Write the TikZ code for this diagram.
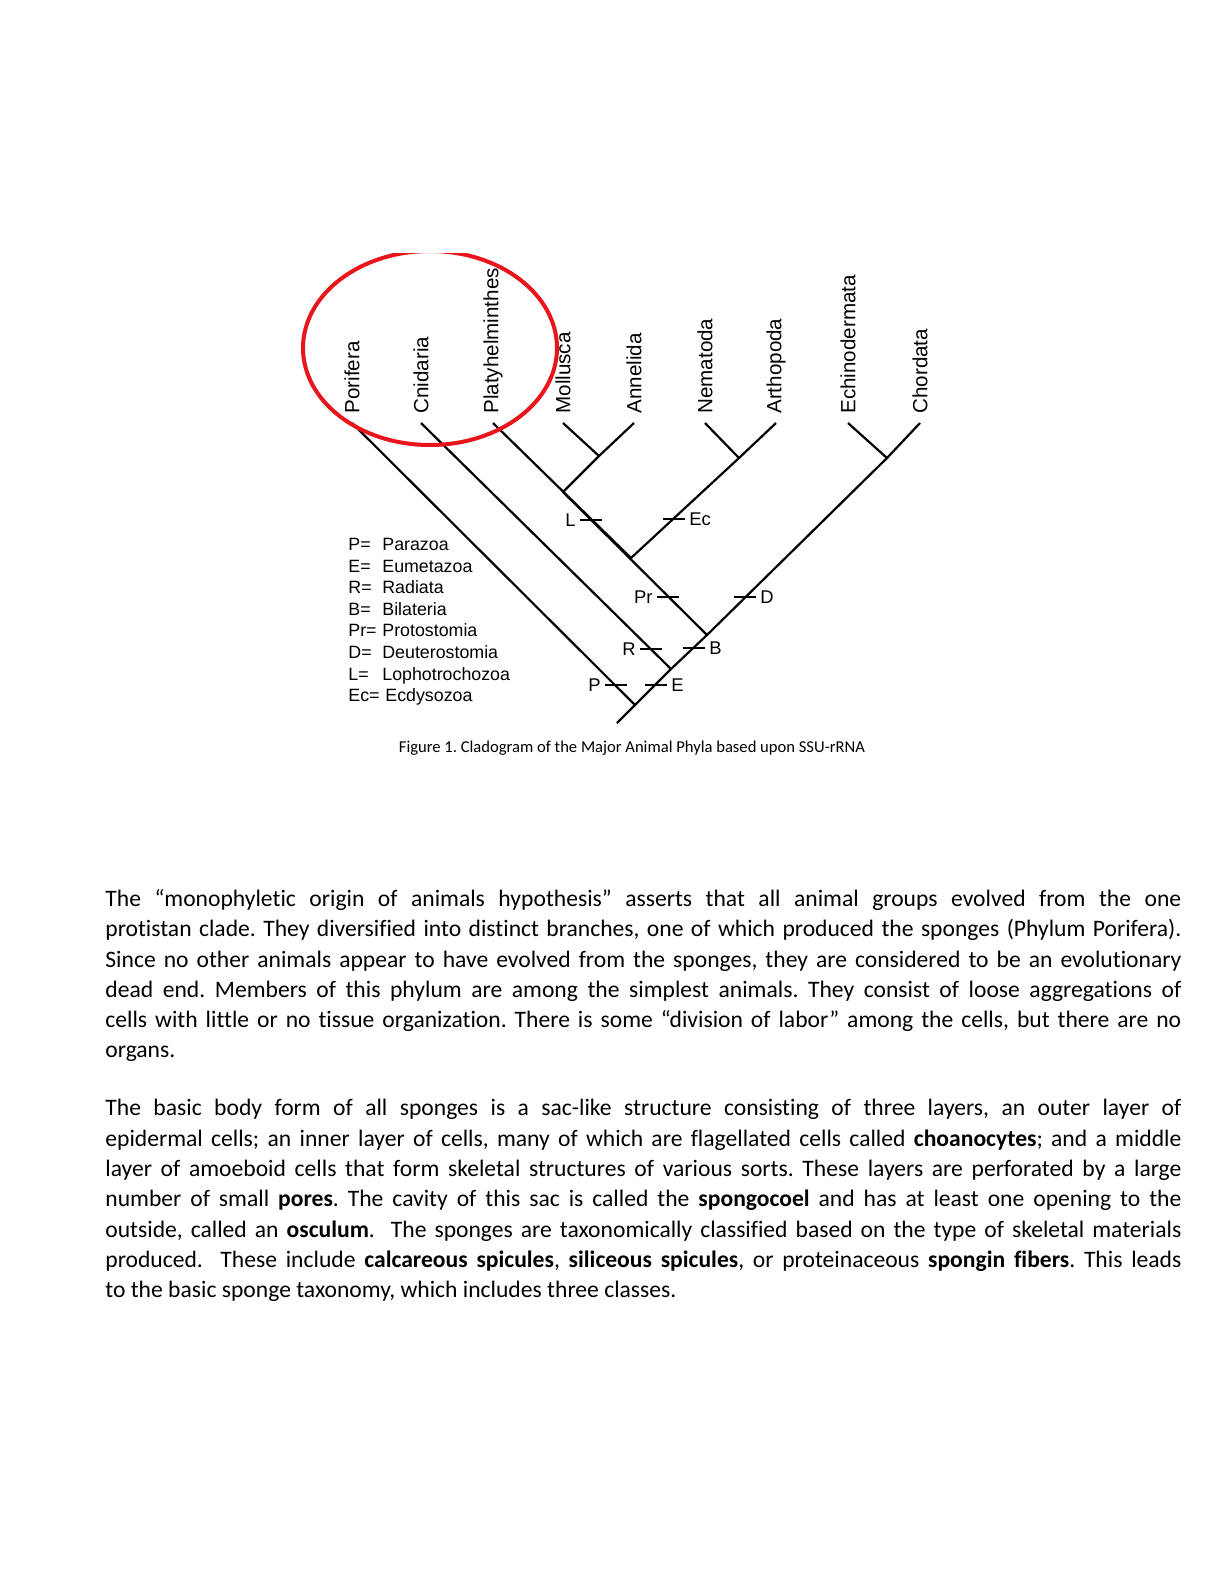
\documentclass[tikz,border=0pt]{standalone}
\usepackage{fontspec}
\setmainfont{Carlito}[Ligatures=NoCommon]
\newfontfamily\arialfont{Liberation Sans}
\usepackage{xcolor}
\definecolor{circred}{RGB}{232,22,28}
\frenchspacing

\tikzset{
  branch/.style={line width=1.1bp},
  phylum/.style={rotate=90, anchor=west, inner sep=0pt, font=\arialfont\fontsize{10.3bp}{12bp}\selectfont},
  clade/.style={inner sep=2bp, font=\arialfont\fontsize{9.2bp}{11bp}\selectfont},
  key/.style={anchor=base west, inner sep=0pt, font=\arialfont\fontsize{8.9bp}{10.8bp}\selectfont},
  para/.style={anchor=north west, inner sep=0pt, text width=538bp, align=justify, font=\fontsize{11.8bp}{15.15bp}\selectfont}
}

\begin{document}
\begin{tikzpicture}[x=0.5bp, y=-0.5bp]
  \fill[white] (0,0) rectangle (1224,1584);
  \useasboundingbox (0,0) rectangle (1224,1584);

  % phyla at the tips
  \node[phylum] (por) at (352,414) {Porifera};
  \node[phylum] (cni) at (421,414) {Cnidaria};
  \node[phylum] (pla) at (493,414) {Platyhelminthes};
  \node[phylum] (mol) at (563,414) {Mollusca};
  \node[phylum] (ann) at (634,414) {Annelida};
  \node[phylum] (nem) at (705,414) {Nematoda};
  \node[phylum] (art) at (776,414) {Arthopoda};
  \node[phylum] (ech) at (848,414) {Echinodermata};
  \node[phylum] (cho) at (920,414) {Chordata};

  % branch points
  \coordinate (root) at (617,723);
  \coordinate (nP) at (635,705);
  \coordinate (nE) at (671,669);
  \coordinate (nB) at (707,635);
  \coordinate (nEc) at (631,558);
  \coordinate (nL) at (563,492);
  \coordinate (nMA) at (599,456);
  \coordinate (nNA) at (739,458);
  \coordinate (nEC) at (887,458);

  \draw[branch] (root) -- (nP) -- (nE) -- (nB) -- (nEC) -- (cho.west |- 0,423);
  \draw[branch] (por.west |- 0,423) -- (nP);
  \draw[branch] (cni.west |- 0,423) -- (nE);
  \draw[branch] (pla.west |- 0,423) -- (nEc) -- (nL) -- (nB);
  \draw[branch] (mol.west |- 0,423) -- (nMA);
  \draw[branch] (ann.west |- 0,423) -- (nMA) -- (nL);
  \draw[branch] (nem.west |- 0,423) -- (nNA);
  \draw[branch] (art.west |- 0,423) -- (nNA) -- (nEc);
  \draw[branch] (ech.west |- 0,423) -- (nEC);

  % character ticks
  \coordinate (tP) at (616,685);
  \coordinate (tE) at (656,685);
  \coordinate (tR) at (651,649);
  \coordinate (tB) at (694,648);
  \coordinate (tPr) at (668,597);
  \coordinate (tD) at (745,597);
  \coordinate (tL) at (591,520);
  \coordinate (tEc) at (674,519);

  \draw[branch] (tP) +(-11,0) -- +(11,0);
  \draw[branch] (tE) +(-11,0) -- +(11,0);
  \draw[branch] (tR) +(-11,0) -- +(11,0);
  \draw[branch] (tB) +(-11,0) -- +(11,0);
  \draw[branch] (tPr) +(-11,0) -- +(11,0);
  \draw[branch] (tD) +(-11,0) -- +(11,0);
  \draw[branch] (tL) +(-11,0) -- +(11,0);
  \draw[branch] (tEc) +(-11,0) -- +(11,0);

  \node[clade, anchor=east] (lP) at ([xshift=-5.5bp]tP) {P};
  \node[clade, anchor=west] (lE) at ([xshift=5.5bp]tE) {E};
  \node[clade, anchor=east] (lR) at ([xshift=-5.5bp]tR) {R};
  \node[clade, anchor=west] (lB) at ([xshift=5.5bp]tB) {B};
  \node[clade, anchor=east] (lPr) at ([xshift=-5.5bp]tPr) {Pr};
  \node[clade, anchor=west] (lD) at ([xshift=5.5bp]tD) {D};
  \node[clade, anchor=east] (lL) at ([xshift=-5.5bp]tL) {L};
  \node[clade, anchor=west] (lEc) at ([xshift=5.5bp]tEc) {Ec};

  % key
  \node[key] (kP) at (348,550.5) {\makebox[17bp][l]{P=}Parazoa};
  \node[key] (kE) at (348,572.1) {\makebox[17bp][l]{E=}Eumetazoa};
  \node[key] (kR) at (348,593.7) {\makebox[17bp][l]{R=}Radiata};
  \node[key] (kB) at (348,615.3) {\makebox[17bp][l]{B=}Bilateria};
  \node[key] (kPr) at (348,636.9) {\makebox[17bp][l]{Pr=}Protostomia};
  \node[key] (kD) at (348,658.5) {\makebox[17bp][l]{D=}Deuterostomia};
  \node[key] (kL) at (348,680.1) {\makebox[17bp][l]{L=}Lophotrochozoa};
  \node[key] (kEc) at (348,701.7) {\makebox[18.5bp][l]{Ec=}Ecdysozoa};

  % red ring round the first three phyla
  \begin{scope}
    \clip (280,253) rectangle (600,470);
    \draw[circred, line width=2bp] (430,348) ellipse [x radius=127, y radius=97];
  \end{scope}

  \node[inner sep=0pt, font=\fontsize{8.3bp}{10bp}\selectfont] (cap) at (632,748)
    {Figure 1. Cladogram of the Major Animal Phyla based upon SSU-rRNA};

  \node[para] (txt1) at (105,889) {The “monophyletic origin of animals hypothesis” asserts that all animal groups evolved from the one\linebreak
    protistan clade. They diversified into distinct branches, one of which produced the sponges (Phylum Porifera).\linebreak
    Since no other animals appear to have evolved from the sponges, they are considered to be an evolutionary\linebreak
    dead end. Members of this phylum are among the simplest animals. They consist of loose aggregations of\linebreak
    cells with little or no tissue organization. There is some “division of labor” among the cells, but there are no\linebreak
    organs.};

  \node[para] (txt2) at (105,1099) {The basic body form of all sponges is a sac-like structure consisting of three layers, an outer layer of\linebreak
    epidermal cells; an inner layer of cells, many of which are flagellated cells called \textbf{choanocytes}; and a middle\linebreak
    layer of amoeboid cells that form skeletal structures of various sorts. These layers are perforated by a large\linebreak
    number of small \textbf{pores}. The cavity of this sac is called the \textbf{spongocoel} and has at least one opening to the\linebreak
    outside, called an \textbf{osculum}.\ \ The sponges are taxonomically classified based on the type of skeletal materials\linebreak
    produced.\ \ These include \textbf{calcareous spicules}, \textbf{siliceous spicules}, or proteinaceous \textbf{spongin fibers}. This leads\linebreak
    to the basic sponge taxonomy, which includes three classes.};
\end{tikzpicture}
\end{document}
